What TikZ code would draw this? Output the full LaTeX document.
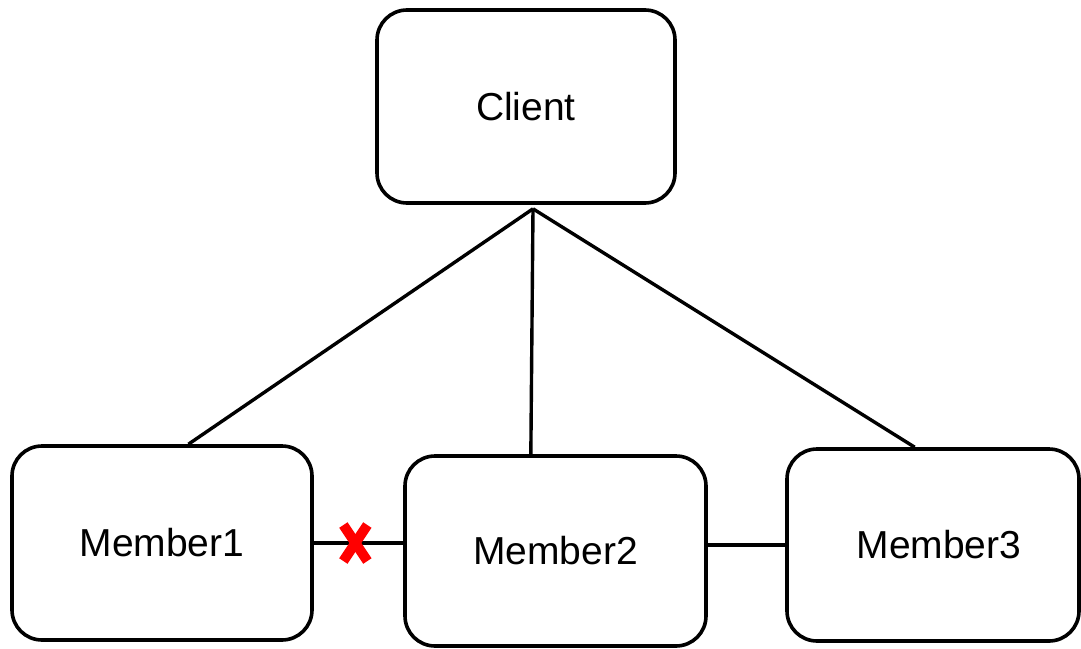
\documentclass[tikz,border=0pt]{standalone}
\usepackage{fontspec}
\setmainfont{Liberation Sans}
\usetikzlibrary{calc}
\begin{document}
\begin{tikzpicture}[x=1pt, y=-1pt,
  box/.style={draw=black, line width=3.6pt, rounded corners=30pt, fill=white,
    inner sep=0pt, font=\fontsize{39}{46}\selectfont},
  link/.style={draw=black, line width=3.4pt},
  cutmark/.style={draw=red, line width=10pt}]
  \useasboundingbox (0,0) rectangle (1081,648);

  % nodes
  \node[box, minimum width=298pt, minimum height=193pt] (client) at (526,106.5) {Client};
  \node[box, minimum width=300pt, minimum height=194pt] (m1) at (162,543) {Member1};
  \node[box, minimum width=301pt, minimum height=190pt] (m2) at (555.5,551) {Member2};
  \node[box, minimum width=292pt, minimum height=192pt, align=center] (m3) at (933,545) {\hspace*{12pt}Member3};

  % fan-out point just below the client
  \coordinate (hub) at ($(client.south)+(7,4)$);

  % links from the client to each member
  \draw[link] (hub) -- ($(m1.north west)!0.587!(m1.north east)$);
  \draw[link] (hub) -- ($(m2.north west)!0.419!(m2.north east)$);
  \draw[link] (hub) -- ($(m3.north west)!0.438!(m3.north east)$);

  % links between members
  \draw[link] (m1.east) -- (m1.east -| m2.west);
  \draw[link] (m3.west -| m2.east) -- (m3.west);

  % broken link marker
  \coordinate (cut) at ($(m1.east)!0.465!(m1.east -| m2.west)$);
  \draw[cutmark] ($(cut)+(-12,-18)$) -- ($(cut)+(12,18)$);
  \draw[cutmark] ($(cut)+(12,-18)$) -- ($(cut)+(-12,18)$);
\end{tikzpicture}
\end{document}
